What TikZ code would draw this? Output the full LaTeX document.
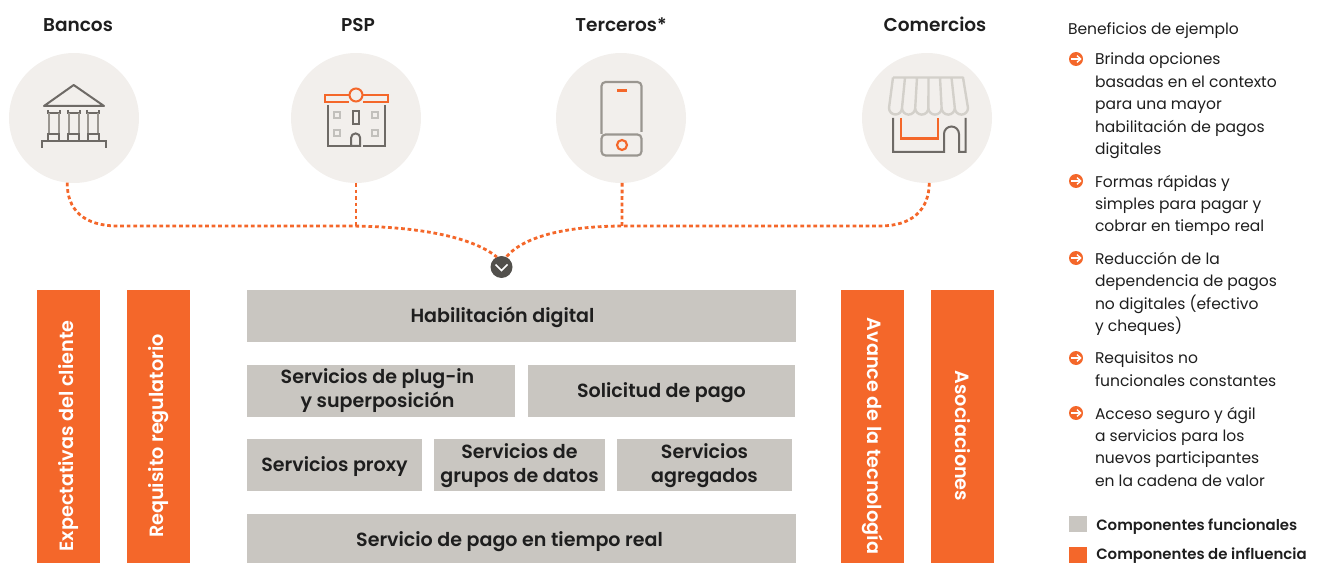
\documentclass[tikz,border=0pt]{standalone}
\usepackage{fontspec}
\setmainfont{Poppins}
\newfontfamily\medf{Poppins SemiBold}
\definecolor{org}{HTML}{F4672A}
\definecolor{gbx}{HTML}{C9C6C1}
\definecolor{circ}{HTML}{F2EFEC}
\definecolor{ink}{HTML}{1E1E1E}
\definecolor{ico}{HTML}{6E6A66}
\definecolor{icl}{HTML}{9A9690}
\definecolor{icp}{HTML}{D3D0CA}
\tikzset{
 pill/.style={inner sep=0pt,outer sep=0pt},
 graybox/.style={pill,fill=gbx},
 orgbox/.style={pill,fill=org},
 graytext/.style={inner sep=0pt,align=center,text=ink,font=\medf\fontsize{14.3}{18}\selectfont},
 orgtext/.style={inner sep=0pt,align=center,text=white,font=\medf\fontsize{14.4}{18}\selectfont},
 head/.style={text=ink,inner sep=0pt,font=\medf\fontsize{13.9}{17}\selectfont,anchor=base},
 disc/.style={circle,fill=circ,minimum size=97.5pt,inner sep=0pt,outer sep=0pt},
 link/.style={org,line width=2.1pt,dash pattern=on 2.8pt off 2.1pt},
 body/.style={text=ink,inner sep=0pt,outer sep=0pt,anchor=north west,align=left,font=\fontsize{11.65}{16.8}\selectfont},
 legend/.style={text=ink,inner sep=0pt,anchor=base west,font=\medf\fontsize{11.2}{12}\selectfont},
 ic/.style={line width=1.5pt,ico},
 bullet/.style={circle,fill=org,minimum size=10.5pt,inner sep=0pt,outer sep=0pt},
 arrowmark/.style={white,line width=1.05pt}
}
\newcommand{\boxat}[8]{\node[graybox,minimum width={(#3-#1)*0.75},minimum height={(#4-#2)*0.75}] (#5) at ({(#1+#3)/2},{(#2+#4)/2}) {};
 \node[graytext] (#5t) at ({(#1+#3)/2+#7},{(#2+#4)/2+#8}) {#6};}
\newcommand{\vboxat}[7]{\node[orgbox,minimum width={(#3-#1)*0.75},minimum height={(#4-#2)*0.75}] (#5) at ({(#1+#3)/2},{(#2+#4)/2}) {};
 \node[orgtext,rotate=#7] (#5t) at ({(#1+#3)/2},436) {#6};}
\newcommand{\bul}[2]{\node[bullet] (#1) at (1076,#2) {};
 \draw[arrowmark] (1071,#2) -- (1080.4,#2);
 \draw[arrowmark] ({1077},{#2-3.4}) -- (1080.6,#2) -- ({1077},{#2+3.4});}
\begin{document}
\begin{tikzpicture}[x=0.75pt,y=-0.75pt]
\useasboundingbox (0,0) rectangle (1321,563);
% headers
\node[head] (h1) at (78,31.5) {Bancos};
\node[head] (h2) at (358,31.5) {PSP};
\node[head] (h3) at (621,31.5) {Terceros*};
\node[head] (h4) at (935,31.5) {Comercios};
% discs
\node[disc] (bank) at (74,118) {};
\node[disc] (psp) at (356,118) {};
\node[disc] (third) at (621,118) {};
\node[disc] (shop) at (927,118) {};
% bank icon
\draw[ic,line join=round] (44,106) -- (73.7,85) -- (104,106) -- cycle;
\foreach \c in {53.7,73.7,93}{
 \draw[ic] ({\c-6},110) -- ({\c-6},113) -- ({\c+6},113) -- ({\c+6},110);
 \draw[icl,line width=1.4pt] ({\c-5},113) -- ({\c-5},134) ({\c+5},113) -- ({\c+5},134);
 \draw[ic] ({\c-5.5},140) -- ({\c-5.5},134) -- ({\c+5.5},134) -- ({\c+5.5},140);
}
\draw[ic] (42,148) -- (42,141) -- (106,141) -- (106,148);
% psp icon
\draw[org,line width=1.5pt] (349.5,95.5) -- (324.5,95.5) -- (324.5,102) -- (349,102);
\draw[org,line width=1.5pt] (362.5,95.5) -- (387.5,95.5) -- (387.5,102) -- (363,102);
\draw[org,line width=1.5pt] (356,95) circle[radius=6.5];
\draw[ic] (327.5,105) -- (327.5,146) -- (350.5,146);
\draw[ic] (384.5,105) -- (384.5,146) -- (363,146);
\draw[ic] (351,146) -- (351,138) arc[start angle=180,end angle=0,x radius=4.6,y radius=-4.6] -- (360.2,146) -- cycle;
\draw[ic] (353,111) rectangle (359,124);
\foreach \p/\q in {337/115,375/115,337/133,375/133}
 \draw[icl!60,line width=1.5pt] ({\p-3},{\q-3}) rectangle ({\p+3},{\q+3});
% phone icon
\draw[icl,line width=1.6pt,rounded corners=3pt] (601.5,134) -- (601.5,82) -- (641.5,82) -- (641.5,132);
\draw[icl,line width=1.6pt,rounded corners=3pt] (601.5,134.5) rectangle (641.5,155.5);
\draw[org,line width=2pt] (617,90.5) -- (627,90.5);
\draw[org,line width=1.6pt] (622,145) circle[radius=5];
% shop icon
\draw[icp,line width=1.8pt,line join=round] (893,77.5) -- (963,77.5) -- (968,108)
 arc[start angle=0,end angle=-180,x radius=6.6,y radius=-6.6] -- (951.5,77.5)
 (954.8,108) arc[start angle=0,end angle=-180,x radius=6.6,y radius=-6.6] -- (940,77.5)
 (941.6,108) arc[start angle=0,end angle=-180,x radius=6.6,y radius=-6.6] -- (928.5,77.5)
 (928.4,108) arc[start angle=0,end angle=-180,x radius=6.6,y radius=-6.6] -- (917,77.5)
 (915.2,108) arc[start angle=0,end angle=-180,x radius=6.6,y radius=-6.6] -- (905,77.5)
 (902,108) arc[start angle=0,end angle=-180,x radius=6.5,y radius=-6.5] -- (893,77.5);
\draw[ic] (893,118) -- (893,152) -- (944,152) -- (944,134) arc[start angle=180,end angle=0,x radius=7.5,y radius=-7.5] -- (959,152) -- (965.5,152) -- (965.5,118);
\draw[org,line width=1.7pt] (901,118) -- (901,138.5) -- (938,138.5) -- (938,118);
% hub
\node[circle,fill=ico!75!black,minimum size=16.5pt,inner sep=0pt,outer sep=0pt] (hub) at (501.5,267) {};
\draw[white,line width=1.2pt] (495.5,264.5) -- (501.5,270.5) -- (507.5,264.5);
% connectors
\draw[link] (bank.264) .. controls (67,210) and (84,226) .. (118,226) -- (345,226) .. controls (410,226) and (470,235) .. (hub.115);
\draw[link] (psp.south) -- (356,226);
\draw[link] (third.271) -- (622,226);
\draw[link] (shop.272) .. controls (929,210) and (912,226) .. (880,226) -- (625,226) .. controls (570,226) and (525,235) .. (hub.65);
% boxes
\vboxat{37}{290}{100}{563}{e1}{Expectativas del cliente}{90}
\vboxat{127}{290}{190}{563}{e2}{Requisito regulatorio}{90}
\vboxat{841}{290}{904}{563}{e3}{Avance de la tecnología}{-90}
\vboxat{931}{290}{994}{563}{e4}{Asociaciones}{-90}
\boxat{247}{290}{796}{342}{g1}{Habilitación digital}{-19}{1.5}
\boxat{247}{365}{515}{417}{g2}{Servicios de plug-in\\y superposición}{-3.5}{-0.5}
\boxat{528}{365}{795}{417}{g3}{Solicitud de pago}{0}{1.5}
\boxat{247}{439}{422}{491}{g4}{Servicios proxy}{0}{1.5}
\boxat{434}{439}{605}{491}{g5}{Servicios de\\grupos de datos}{0}{0.5}
\boxat{617}{439}{792}{491}{g6}{Servicios\\agregados}{0}{0.5}
\boxat{247}{514}{796}{563}{g7}{Servicio de pago en tiempo real}{-12}{3}
% benefits
\node[body] (t0) at (1068,23) {Beneficios de ejemplo};
\bul{b1}{59}
\node[body] (t1) at (1095,53) {Brinda opciones\\basadas en el contexto\\para una mayor\\habilitación de pagos\\digitales};
\bul{b2}{181}
\node[body] (t2) at (1095,175) {Formas rápidas y\\simples para pagar y\\cobrar en tiempo real};
\bul{b3}{258}
\node[body] (t3) at (1095,252) {Reducción de la\\dependencia de pagos\\no digitales (efectivo\\y cheques)};
\bul{b4}{358}
\node[body] (t4) at (1095,352) {Requisitos no\\funcionales constantes};
\bul{b5}{413}
\node[body] (t5) at (1095,407) {Acceso seguro y ágil\\a servicios para los\\nuevos participantes\\en la cadena de valor};
% legend
\fill[gbx] (1069,516) rectangle (1087,532);
\node[legend] (l1) at (1096,530) {Componentes funcionales};
\fill[org] (1069,547) rectangle (1087,563);
\node[legend] (l2) at (1096,559.5) {Componentes de influencia};
\end{tikzpicture}
\end{document}
